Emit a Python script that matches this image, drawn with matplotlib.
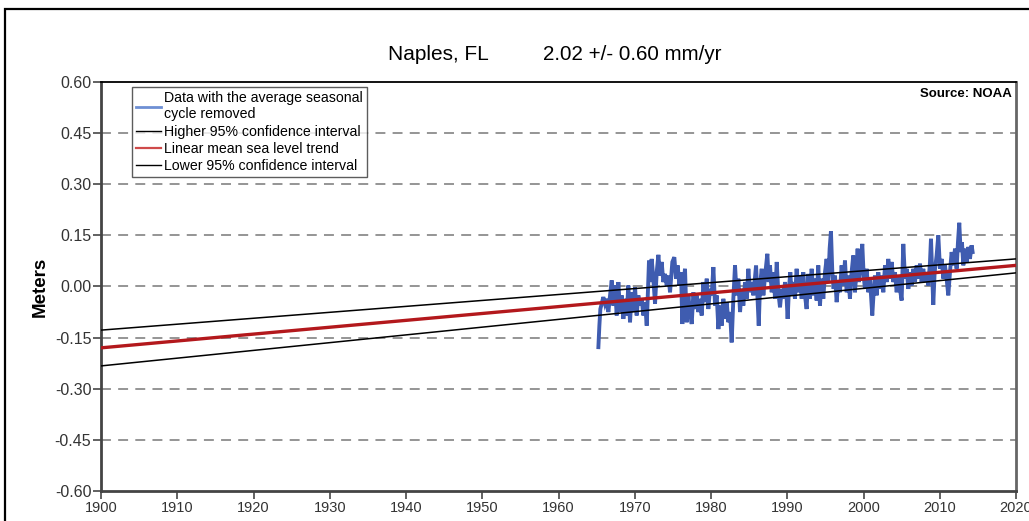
import numpy as np
import matplotlib
matplotlib.use("Agg")
import matplotlib.pyplot as plt
from matplotlib.patches import Rectangle
from matplotlib.lines import Line2D

plt.rcParams['font.family'] = ['Liberation Sans', 'DejaVu Sans']

# ---- data ----
years = [
    1965.23, 1965.36, 1965.49, 1965.66, 1965.88, 1966.10, 1966.32, 1966.54, 1966.76, 1966.98,
    1967.19, 1967.41, 1967.63, 1967.85, 1968.07, 1968.29, 1968.51, 1968.72, 1968.94, 1969.16,
    1969.38, 1969.60, 1969.82, 1970.04, 1970.25, 1970.47, 1970.69, 1970.91, 1971.13, 1971.35,
    1971.57, 1971.70, 1971.87, 1972.05, 1972.22, 1972.44, 1972.66, 1972.88, 1973.10, 1973.31,
    1973.53, 1973.75, 1973.97, 1974.19, 1974.41, 1974.63, 1974.93, 1975.19, 1975.41, 1975.63,
    1975.85, 1976.07, 1976.24, 1976.42, 1976.59, 1976.81, 1977.03, 1977.25,
    1977.47, 1977.69, 1977.91, 1978.12, 1978.34, 1978.56, 1978.78, 1979.00, 1979.22, 1979.44,
    1979.65, 1979.87, 1980.09, 1980.31, 1980.53, 1980.75, 1980.97, 1981.18, 1981.40, 1981.62,
    1981.84, 1982.06, 1982.28, 1982.50, 1982.71, 1982.93, 1983.15, 1983.37, 1983.59, 1983.81,
    1984.03, 1984.24, 1984.46, 1984.68, 1984.90, 1985.12, 1985.34, 1985.56, 1985.91, 1986.08,
    1986.26, 1986.43, 1986.65, 1986.87, 1987.09, 1987.39, 1987.57, 1987.74, 1987.96, 1988.18,
    1988.40, 1988.62, 1988.83, 1989.05, 1989.27, 1989.49, 1989.71,
    1989.92, 1990.05, 1990.22, 1990.40, 1990.57, 1990.79, 1991.01, 1991.23, 1991.45, 1991.67,
    1991.89, 1992.10, 1992.32, 1992.54, 1992.76, 1992.98, 1993.20, 1993.42, 1993.63, 1993.85,
    1994.07, 1994.29, 1994.51, 1994.73, 1994.95, 1995.16, 1995.38, 1995.56, 1995.73, 1995.91,
    1996.08, 1996.26, 1996.48, 1996.69, 1996.91, 1997.13, 1997.35, 1997.57, 1997.79, 1998.01,
    1998.22, 1998.44, 1998.66, 1998.88, 1999.10, 1999.23, 1999.40, 1999.62, 1999.84, 2000.02,
    2000.19, 2000.41, 2000.63, 2000.85, 2001.15, 2001.33, 2001.50, 2001.72, 2001.94, 2002.16,
    2002.38, 2002.60, 2002.82, 2003.03, 2003.25, 2003.47, 2003.69, 2003.91, 2004.13, 2004.35,
    2004.56, 2004.78, 2005.00, 2005.22, 2005.44, 2005.66, 2005.88, 2006.09, 2006.31, 2006.53,
    2006.75, 2006.97, 2007.19, 2007.41, 2007.62, 2007.84, 2008.06, 2008.28, 2008.50, 2008.72,
    2008.85, 2009.02, 2009.15, 2009.33, 2009.59, 2009.81, 2010.03, 2010.25, 2010.47, 2010.68,
    2010.90, 2011.12, 2011.34, 2011.56, 2011.78, 2012.00, 2012.21, 2012.39, 2012.56, 2012.74,
    2012.91, 2013.09, 2013.31, 2013.53, 2013.74, 2013.96, 2014.18, 2014.31,
]
msl = [
    -0.178, -0.115, -0.066, -0.051, -0.031, -0.051, -0.036, -0.075, -0.026, 0.018,
    -0.056, 0.003, -0.085, 0.013, -0.075, -0.026, -0.095, -0.036, -0.085, 0.003,
    -0.105, -0.017, -0.075, -0.002, -0.085, -0.026, -0.056, -0.036, -0.085, -0.046,
    -0.115, -0.036, 0.076, 0.013, 0.081, 0.023, -0.051, 0.042, 0.093, 0.032,
    0.072, 0.013, 0.037, 0.003, 0.032, -0.017, 0.072, 0.086, 0.023, 0.062,
    0.003, 0.042, -0.110, 0.013, 0.052, -0.105, -0.026, -0.075,
    -0.110, -0.017, -0.066, -0.026, -0.075, -0.036, -0.085, 0.013, -0.046, 0.023,
    -0.066, -0.007, -0.026, 0.057, -0.056, -0.026, -0.125, -0.056, -0.115, -0.036,
    -0.095, -0.046, -0.105, -0.075, -0.164, -0.036, 0.062, -0.026, 0.023, -0.075,
    -0.007, -0.056, 0.013, -0.036, 0.052, -0.017, 0.013, -0.026, 0.062, -0.026,
    -0.115, 0.003, 0.052, -0.026, 0.032, 0.096, 0.013, 0.062, -0.017, 0.042,
    -0.036, 0.072, -0.017, -0.061, -0.007, -0.036, 0.013,
    -0.036, -0.095, -0.007, 0.042, -0.026, 0.013, -0.036, 0.052, -0.017, 0.032,
    -0.036, 0.042, -0.026, -0.066, 0.037, -0.036, 0.052, -0.026, 0.023, -0.041,
    0.062, -0.056, 0.023, -0.036, 0.042, 0.081, 0.013, 0.111, 0.162, 0.042,
    -0.007, 0.032, -0.046, 0.013, -0.017, 0.062, 0.003, 0.076, -0.017, 0.032,
    -0.036, 0.042, 0.091, -0.017, 0.052, 0.111, 0.013, 0.062, 0.125, 0.032,
    -0.007, 0.052, -0.017, 0.023, -0.085, -0.017, 0.032, -0.026, 0.042, -0.007,
    0.032, -0.017, 0.062, 0.013, 0.081, 0.023, 0.072, 0.013, 0.042, -0.017,
    0.032, -0.007, -0.041, 0.125, 0.023, 0.052, -0.007, 0.042, 0.003, 0.052,
    0.013, 0.062, 0.023, 0.067, 0.013, 0.052, 0.013, 0.042, 0.003, 0.072,
    0.140, 0.032, -0.054, 0.042, 0.091, 0.150, 0.052, 0.081, 0.023, 0.062,
    0.023, -0.026, 0.042, 0.101, 0.062, 0.111, 0.052, 0.130, 0.187, 0.101,
    0.130, 0.062, 0.111, 0.072, 0.116, 0.081, 0.121, 0.101,
]

line_years = [1900, 2020]
trend = [-0.180, 0.062]
upper_ci = [-0.128, 0.081]
lower_ci = [-0.233, 0.040]

yticks = [0.60, 0.45, 0.30, 0.15, 0.00, -0.15, -0.30, -0.45, -0.60]
xticks = list(range(1900, 2021, 10))
grid_levels = [0.45, 0.30, 0.15, 0.00, -0.15, -0.30, -0.45]

# ---- figure ----
W, H = 1029, 521
fig = plt.figure(figsize=(W / 100, H / 100), dpi=100)
fig.patch.set_facecolor('white')

# outer frame
fig.patches.append(Rectangle((5 / W, -0.05), 1.2, (H - 9) / H + 0.05,
                             transform=fig.transFigure, fill=False,
                             edgecolor='black', linewidth=1.6))

ax = fig.add_axes([101 / W, 1 - 491 / H, (1016 - 101) / W, (491 - 82) / H])

for lv in grid_levels:
    ax.axhline(lv, color='#8c8c8c', linestyle=(0, (5.5, 4)), linewidth=1.3, zorder=1)

ax.plot(years, msl, color='#3f5cb0', linewidth=2.8, zorder=3, solid_joinstyle='miter')
ax.plot(line_years, upper_ci, color='black', linewidth=1.1, zorder=4)
ax.plot(line_years, trend, color='#b3181c', linewidth=2.4, zorder=5)
ax.plot(line_years, lower_ci, color='black', linewidth=1.1, zorder=4)

ax.set_xlim(1900, 2020)
ax.set_ylim(-0.60, 0.60)
ax.set_yticks(yticks)
ax.set_yticklabels([f"{v:.2f}" for v in yticks])
ax.set_xticks(xticks)
ax.set_xticklabels([str(v) for v in xticks])
for lab in ax.get_xticklabels():
    lab.set_fontstretch('condensed')

ax.tick_params(axis='y', direction='out', length=6, width=1.3, colors='#555555',
               labelsize=11.5, labelcolor='#333333', pad=1)
ax.tick_params(axis='x', direction='out', length=6, width=1.3, colors='#555555',
               labelsize=10.5, labelcolor='#333333', pad=1)

for side in ['left', 'bottom']:
    ax.spines[side].set_color('#444444')
    ax.spines[side].set_linewidth(2.0)
ax.spines['right'].set_color('#666666')
ax.spines['right'].set_linewidth(2.0)
ax.spines['top'].set_color('black')
ax.spines['top'].set_linewidth(1.3)

ax.set_ylabel('Meters', fontsize=13.5, fontweight='bold', labelpad=4)

handles = [
    Line2D([], [], color='#6e8fd4', linewidth=2.0),
    Line2D([], [], color='black', linewidth=1.0),
    Line2D([], [], color='#cf4a4a', linewidth=1.6),
    Line2D([], [], color='black', linewidth=1.0),
]
labels = ['Data with the average seasonal\ncycle removed',
          'Higher 95% confidence interval',
          'Linear mean sea level trend',
          'Lower 95% confidence interval']
leg = ax.legend(handles, labels, loc='upper left',
                bbox_to_anchor=((132 - 101) / 915, (491 - 87) / 409),
                borderaxespad=0, frameon=True, fancybox=False,
                edgecolor='#333333', fontsize=10.2, handlelength=1.75,
                handletextpad=0.2, borderpad=0.3, labelspacing=0.22)
leg.get_frame().set_linewidth(1.0)
leg.set_zorder(10)

ax.text(0.996, 0.985, 'Source: NOAA', transform=ax.transAxes, ha='right', va='top',
        fontsize=9.5, fontweight='bold')

fig.text(388 / W, 1 - 55 / H, 'Naples, FL', ha='left', va='center', fontsize=15)
fig.text(543 / W, 1 - 55 / H, '2.02 +/- 0.60 mm/yr', ha='left', va='center', fontsize=14.8)

fig.savefig('out.png', dpi=100)
